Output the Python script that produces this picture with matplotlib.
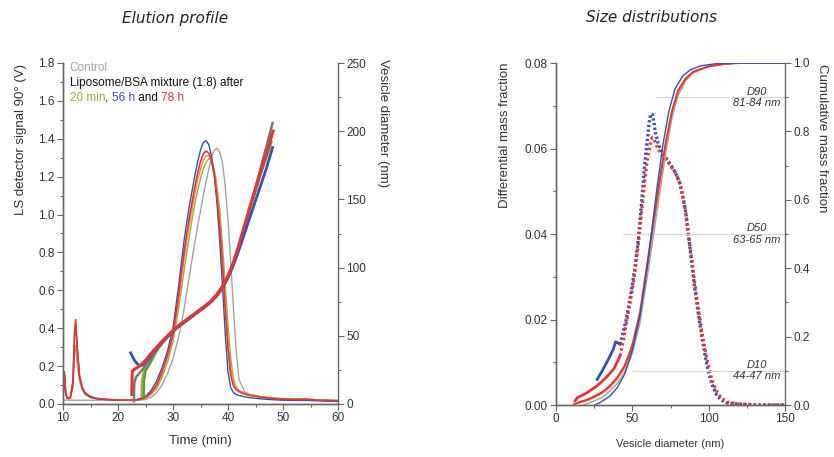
import matplotlib
matplotlib.use('Agg')
import matplotlib.pyplot as plt
from matplotlib.ticker import MultipleLocator

# ---------------- Elution profile (LS signal, V) ----------------
t_ls = [10, 10.25, 10.5, 10.8, 11.3, 11.8, 12.1, 12.3, 12.6, 13,
        13.5, 14, 15, 16, 18, 20, 22, 23, 24, 25,
        26, 27, 28, 29, 30, 31, 31.5, 32, 32.5, 33,
        33.5, 34, 34.5, 35, 35.5, 36, 36.5, 37, 37.5, 38,
        38.5, 39, 39.5, 40, 40.5, 41, 41.5, 42, 43, 44,
        46, 48, 50, 52, 54, 56, 58, 60]

ls_control = [0.02, 0.02, 0.02, 0.02, 0.02, 0.02, 0.02, 0.02, 0.02, 0.02,
              0.02, 0.02, 0.02, 0.02, 0.02, 0.02, 0.02, 0.02, 0.02, 0.024,
              0.035, 0.06, 0.1, 0.16, 0.24, 0.35, 0.42, 0.5, 0.59, 0.68,
              0.77, 0.86, 0.94, 1.02, 1.1, 1.17, 1.24, 1.3, 1.34, 1.35,
              1.33, 1.27, 1.15, 0.97, 0.75, 0.5, 0.28, 0.13, 0.065, 0.048,
              0.036, 0.03, 0.026, 0.024, 0.023, 0.021, 0.019, 0.017]

ls_20min = [0.03, 0.15, 0.05, 0.028, 0.028, 0.09, 0.26, 0.3, 0.22, 0.12,
            0.075, 0.05, 0.035, 0.028, 0.023, 0.02, 0.02, 0.02, 0.022, 0.03,
            0.05, 0.08, 0.14, 0.22, 0.33, 0.5, 0.6, 0.7, 0.8, 0.89,
            0.98, 1.06, 1.13, 1.19, 1.24, 1.275, 1.295, 1.285, 1.24, 1.15,
            1.02, 0.84, 0.63, 0.42, 0.24, 0.13, 0.09, 0.072, 0.058, 0.05,
            0.039, 0.032, 0.028, 0.026, 0.027, 0.023, 0.021, 0.019]

ls_mid = [0.03, 0.16, 0.055, 0.03, 0.03, 0.09, 0.27, 0.31, 0.23, 0.13,
          0.08, 0.055, 0.038, 0.03, 0.024, 0.02, 0.02, 0.02, 0.024, 0.033,
          0.055, 0.09, 0.155, 0.24, 0.35, 0.54, 0.65, 0.76, 0.86, 0.95,
          1.03, 1.11, 1.18, 1.24, 1.285, 1.31, 1.31, 1.28, 1.21, 1.1,
          0.95, 0.76, 0.55, 0.34, 0.19, 0.11, 0.08, 0.068, 0.055, 0.047,
          0.037, 0.031, 0.027, 0.025, 0.026, 0.022, 0.02, 0.018]

ls_56h = [0.03, 0.16, 0.055, 0.03, 0.03, 0.11, 0.36, 0.42, 0.29, 0.145,
          0.085, 0.055, 0.035, 0.028, 0.022, 0.02, 0.02, 0.02, 0.028, 0.04,
          0.07, 0.12, 0.19, 0.28, 0.4, 0.62, 0.74, 0.86, 0.96, 1.05,
          1.13, 1.21, 1.28, 1.34, 1.38, 1.39, 1.37, 1.31, 1.21, 1.06,
          0.86, 0.62, 0.37, 0.17, 0.085, 0.06, 0.05, 0.045, 0.038, 0.033,
          0.027, 0.023, 0.02, 0.019, 0.019, 0.017, 0.015, 0.014]

ls_78h = [0.03, 0.17, 0.06, 0.03, 0.03, 0.12, 0.38, 0.445, 0.3, 0.15,
          0.09, 0.06, 0.04, 0.03, 0.025, 0.02, 0.02, 0.02, 0.025, 0.035,
          0.06, 0.1, 0.17, 0.26, 0.37, 0.57, 0.69, 0.8, 0.9, 0.99,
          1.07, 1.15, 1.22, 1.28, 1.32, 1.335, 1.325, 1.285, 1.21, 1.09,
          0.93, 0.73, 0.5, 0.29, 0.15, 0.095, 0.075, 0.065, 0.052, 0.045,
          0.036, 0.03, 0.026, 0.024, 0.025, 0.021, 0.019, 0.017]

# vesicle diameter (nm) vs time
t_d_control = [22.9, 22.95, 23.3, 24, 25, 26, 27, 28, 29, 30, 31, 32, 33, 34, 35,
               36, 37, 38, 39, 40, 41, 42, 43, 44, 45, 46, 47, 48.1]
d_control = [2, 15, 20, 23, 28, 34, 39.5, 44.5, 49, 53, 56.5, 59.5, 62.5, 65.5, 68.5,
             71.5, 75, 79, 84.5, 92, 102, 115, 129, 144, 159, 174, 189, 206]

t_d_20min = [24.3, 24.35, 24.6, 25, 26, 27, 28, 29, 30, 31, 32, 33, 34, 35,
             36, 37, 38, 39, 40, 41, 42, 43, 44, 45, 46, 47, 47.8]
d_20min = [6, 16, 22, 26, 33, 39.5, 45, 49.5, 53.5, 57, 60, 63, 66, 69,
           72, 75.5, 80, 86, 93.5, 103, 116, 130, 144, 157, 170, 182, 193]

t_d_mid = [24.7, 24.75, 25, 26, 27, 28, 29, 30, 31, 32, 33, 34, 35,
           36, 37, 38, 39, 40, 41, 42, 43, 44, 45, 46, 47, 47.9]
d_mid = [5, 17, 24, 31, 38.5, 44.5, 49, 53, 56.5, 59.5, 62.5, 65.5, 68.5,
         71.5, 75, 79.5, 85.5, 93, 102.5, 115, 129, 143, 156, 169, 181, 192]

t_d_56h = [22.3, 22.6, 23, 23.5, 24, 24.5, 25, 26, 27, 28, 29, 30, 31, 32, 33,
           34, 35, 36, 37, 38, 39, 40, 41, 42, 43, 44, 45, 46, 47, 48.1]
d_56h = [37.5, 35, 32, 29.5, 28, 28.5, 31, 36, 41, 45.5, 49.5, 53.5, 57, 60, 63,
         66, 69, 72, 75.5, 80, 86, 93, 102, 113, 125, 137, 149, 161, 173, 188]

t_d_78h = [22.5, 22.55, 22.6, 23, 24, 25, 26, 27, 28, 29, 30, 31, 32, 33, 34,
           35, 36, 37, 38, 39, 40, 41, 42, 43, 44, 45, 46, 47, 48.2]
d_78h = [7, 16, 24, 25.5, 28, 32, 37, 41.5, 46, 50, 54, 57.5, 60.5, 63.5, 66.5,
         69.5, 72.5, 76, 80.5, 86.5, 94, 104, 117, 131, 145, 158, 171, 184, 200]

# ---------------- Size distributions ----------------
# differential mass fraction
dm_56h_x_solid = [27, 30, 34, 37.5, 39, 40.5, 42]
dm_56h_y_solid = [0.006, 0.0078, 0.0105, 0.013, 0.0148, 0.0145, 0.0142]
dm_56h_x = [42, 44, 46, 48, 50, 52, 54, 56, 58, 60, 61, 62, 63, 64, 65, 67, 69, 72, 75,
            78, 81, 83, 85, 87, 89, 91, 93, 96, 99, 102, 105, 108, 112, 120, 135, 150]
dm_56h_y = [0.0142, 0.017, 0.02, 0.024, 0.028, 0.033, 0.039, 0.047, 0.056, 0.0625, 0.066,
            0.068, 0.068, 0.0665, 0.064, 0.061, 0.0595, 0.0578, 0.0562, 0.0545, 0.052,
            0.049, 0.045, 0.039, 0.033, 0.027, 0.022, 0.015, 0.009, 0.005, 0.0025,
            0.0012, 0.0005, 0.0002, 0.0, 0.0]

dm_78h_x_solid = [12.5, 14, 20, 27, 33, 38, 42]
dm_78h_y_solid = [0.001, 0.0017, 0.0028, 0.0045, 0.0065, 0.0085, 0.0115]
dm_78h_x = [42, 44, 46, 48, 50, 52, 54, 56, 58, 60, 62, 63, 64, 65, 67, 69, 72, 75, 78,
            81, 83, 85, 87, 89, 91, 93, 96, 99, 102, 105, 108, 112, 120, 135, 150]
dm_78h_y = [0.0115, 0.015, 0.019, 0.023, 0.027, 0.032, 0.038, 0.045, 0.052, 0.058,
            0.0615, 0.0625, 0.0623, 0.0615, 0.0598, 0.0588, 0.0575, 0.056, 0.0545, 0.052,
            0.049, 0.045, 0.039, 0.034, 0.028, 0.023, 0.016, 0.0105, 0.006, 0.0033,
            0.0017, 0.0007, 0.0002, 0.0, 0.0]

# cumulative mass fraction
cum_x_78h = [12, 15, 20, 25, 30, 35, 40, 45, 50, 55, 60, 64, 68, 72, 76, 80, 85, 90,
             100, 110, 120, 150]
cum_78h = [0.003, 0.008, 0.015, 0.025, 0.037, 0.055, 0.08, 0.115, 0.175, 0.27, 0.42,
           0.54, 0.66, 0.77, 0.86, 0.92, 0.955, 0.975, 0.99, 0.997, 1.0, 1.0]
cum_x_mid = [12, 15, 20, 25, 30, 35, 40, 45, 50, 55, 60, 64, 68, 72, 76, 80, 85, 90,
             100, 110, 120, 150]
cum_mid = [0.002, 0.006, 0.012, 0.021, 0.033, 0.05, 0.074, 0.108, 0.165, 0.26, 0.41,
           0.53, 0.65, 0.765, 0.855, 0.915, 0.952, 0.973, 0.99, 0.997, 1.0, 1.0]
cum_x_control = [18, 25, 30, 35, 40, 45, 50, 55, 60, 64, 68, 72, 76, 80, 85, 90,
                 100, 110, 120, 150]
cum_control = [0.0, 0.012, 0.022, 0.04, 0.062, 0.095, 0.15, 0.24, 0.38, 0.5, 0.62,
               0.74, 0.84, 0.905, 0.948, 0.972, 0.99, 0.997, 1.0, 1.0]
cum_x_56h = [25.5, 30, 35, 40, 45, 50, 55, 60, 63, 66, 70, 74, 78, 83, 88, 95, 105,
             120, 150]
cum_56h = [0.0, 0.01, 0.025, 0.05, 0.09, 0.16, 0.26, 0.41, 0.52, 0.63, 0.76, 0.86,
           0.925, 0.962, 0.98, 0.992, 0.998, 1.0, 1.0]

d_levels = [0.1, 0.5, 0.9]
d_line_start = [49.5, 44, 66]
d_labels = ['D10\n44-47 nm', 'D50\n63-65 nm', 'D90\n81-84 nm']

# colours
c_control = '#a3a3a3'
c_control_d = '#787878'
c_20min = '#a8a83c'
c_mid = '#e8925a'
c_green = '#5f9640'
c_56h = '#3552a8'
c_78h = '#e03838'
c_text = '#333333'
c_axis = '#666666'

plt.rcParams['font.family'] = ['Liberation Sans', 'DejaVu Sans']
plt.rcParams['font.size'] = 8
plt.rcParams['text.color'] = c_text
plt.rcParams['axes.labelcolor'] = c_text
plt.rcParams['axes.edgecolor'] = c_axis
plt.rcParams['xtick.color'] = c_axis
plt.rcParams['ytick.color'] = c_axis
plt.rcParams['xtick.labelcolor'] = c_text
plt.rcParams['ytick.labelcolor'] = c_text

fig = plt.figure(figsize=(8.34, 4.57), dpi=100)
ax1 = fig.add_axes([63/834, 1-404/457, 275/834, 341/457])
ax1r = ax1.twinx()
ax2 = fig.add_axes([556/834, 1-405/457, 229/834, 342/457])
ax2r = ax2.twinx()


def style(ax):
    ax.spines['top'].set_visible(False)
    for s in ax.spines.values():
        s.set_linewidth(1.0)
    ax.tick_params(which='major', direction='out', length=4, width=0.8, pad=2)
    ax.tick_params(which='minor', direction='out', length=2.2, width=0.8)


for a in (ax1, ax1r, ax2, ax2r):
    style(a)
ax1.spines['right'].set_visible(False)
ax2.spines['right'].set_visible(False)

# ---- left panel ----
ax1.plot(t_ls, ls_control, color=c_control, lw=1.0)
ax1.plot(t_ls, ls_20min, color=c_20min, lw=1.0)
ax1.plot(t_ls, ls_mid, color=c_mid, lw=1.0)
ax1.plot(t_ls, ls_56h, color=c_56h, lw=1.0)
ax1.plot(t_ls, ls_78h, color=c_78h, lw=1.2)

ax1r.plot(t_d_20min, d_20min, color=c_20min, lw=1.8)
ax1r.plot(t_d_mid, d_mid, color=c_green, lw=1.6)
ax1r.plot(t_d_control, d_control, color=c_control_d, lw=1.8)
ax1r.plot(t_d_56h, d_56h, color=c_56h, lw=2.0)
ax1r.plot(t_d_78h, d_78h, color=c_78h, lw=2.2)

ax1.set_xlim(10, 60)
ax1.set_ylim(0, 1.8)
ax1r.set_ylim(0, 250)
ax1.xaxis.set_major_locator(MultipleLocator(10))
ax1.xaxis.set_minor_locator(MultipleLocator(5))
ax1.yaxis.set_major_locator(MultipleLocator(0.2))
ax1.yaxis.set_minor_locator(MultipleLocator(0.1))
ax1r.yaxis.set_major_locator(MultipleLocator(50))
ax1r.yaxis.set_minor_locator(MultipleLocator(25))
ax1.tick_params(labelsize=8.5)
ax1r.tick_params(labelsize=8.5)

ax1.set_xlabel('Time (min)', fontsize=9.5, labelpad=8)
ax1.set_ylabel('LS detector signal 90° (V)', fontsize=9.5, va='center')
ax1.yaxis.set_label_coords(-0.153, 0.777)
ax1r.set_ylabel('Vesicle diameter (nm)', fontsize=9.5, rotation=-90, va='center')
ax1r.yaxis.set_label_coords(1.164, 0.825)

ax1.text(0.025, 0.985, 'Control', transform=ax1.transAxes, color=c_control,
         va='center', fontsize=8.5)
ax1.text(0.025, 0.941, 'Liposome/BSA mixture (1:8) after', transform=ax1.transAxes,
         color='#111111', va='center', fontsize=8.5)
p = ax1.text(0.025, 0.897, '20 min', transform=ax1.transAxes, color=c_20min,
             va='center', fontsize=8.5)
for s, c in [(', ', '#111111'), ('56 h', c_56h), (' and ', '#111111'), ('78 h', c_78h)]:
    p = ax1.annotate(s, xy=(1, 0), xycoords=p, va='bottom', ha='left', color=c,
                     fontsize=8.5)

# ---- right panel ----
for y, x0, lab in zip(d_levels, d_line_start, d_labels):
    ax2r.plot([x0, 150], [y, y], color='#d6d6d6', lw=0.8, zorder=1)
    ax2r.text(131.5, y, lab, ha='center', va='center', fontsize=8, style='italic',
              linespacing=1.15, color=c_text, zorder=5)

ax2.plot(dm_56h_x_solid, dm_56h_y_solid, color=c_56h, lw=2.0, zorder=3)
ax2.plot(dm_56h_x, dm_56h_y, color=c_56h, lw=2.4, ls=(0, (0.7, 0.7)), zorder=3)
ax2.plot(dm_78h_x_solid, dm_78h_y_solid, color=c_78h, lw=2.0, zorder=4)
ax2.plot(dm_78h_x, dm_78h_y, color=c_78h, lw=2.4, ls=(0, (0.7, 0.9)), zorder=4)

ax2r.plot(cum_x_control, cum_control, color=c_control, lw=1.0)
ax2r.plot(cum_x_mid, cum_mid, color=c_mid, lw=1.2)
ax2r.plot(cum_x_78h, cum_78h, color=c_78h, lw=1.4)
ax2r.plot(cum_x_56h, cum_56h, color=c_56h, lw=1.0)

ax2.set_xlim(0, 150)
ax2.set_ylim(0, 0.08)
ax2r.set_ylim(0, 1.0)
ax2.xaxis.set_major_locator(MultipleLocator(50))
ax2.xaxis.set_minor_locator(MultipleLocator(25))
ax2.yaxis.set_major_locator(MultipleLocator(0.02))
ax2.yaxis.set_minor_locator(MultipleLocator(0.01))
ax2r.yaxis.set_major_locator(MultipleLocator(0.2))
ax2r.yaxis.set_minor_locator(MultipleLocator(0.1))
ax2.tick_params(labelsize=8.5)
ax2r.tick_params(labelsize=8.5)

ax2.set_xlabel('Vesicle diameter (nm)', fontsize=8, labelpad=10)
ax2.set_ylabel('Differential mass fraction', fontsize=9.5, va='center')
ax2.yaxis.set_label_coords(-0.223, 0.79)
ax2r.set_ylabel('Cumulative mass fraction', fontsize=9.5, rotation=-90, va='center')
ax2r.yaxis.set_label_coords(1.16, 0.78)

fig.text(175/834, 1-18/457, 'Elution profile', ha='center', va='center',
         fontsize=11, style='italic', family='DejaVu Sans', color='#222222')
fig.text(652/834, 1-18/457, 'Size distributions', ha='center', va='center',
         fontsize=11, style='italic', family='DejaVu Sans', color='#222222')

fig.savefig('out.png', dpi=100)
